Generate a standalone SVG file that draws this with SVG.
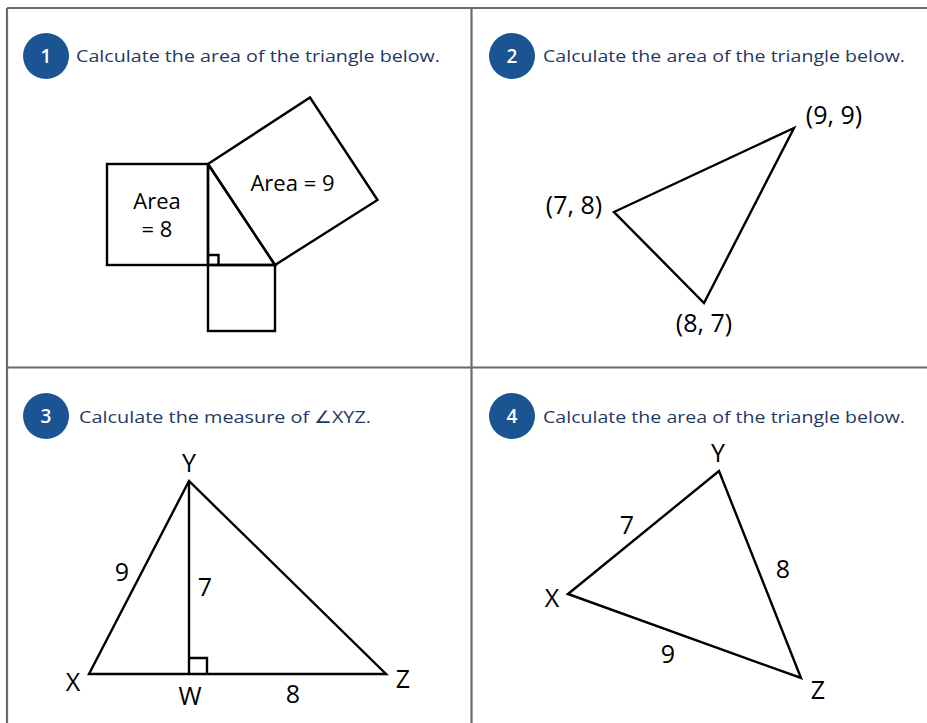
<svg xmlns="http://www.w3.org/2000/svg" width="927" height="723" viewBox="0 0 927 723">
<style>
.grid{stroke:#6b6b6b;stroke-width:2.2;fill:none}
.shape{stroke:#000;stroke-width:2.4;fill:none;stroke-linejoin:miter}
.badge{fill:#1b5493}
.num{fill:#fff;font-family:"Open Sans","Liberation Sans",sans-serif;font-size:19px;font-weight:600;text-anchor:middle}
.q{fill:#1f3a5f;font-family:"Open Sans","Liberation Sans",sans-serif;font-size:17px}
.lbl{fill:#000;font-family:"Open Sans","Liberation Sans",sans-serif;font-size:25px;text-anchor:middle}
.lbl1{fill:#000;font-family:"Open Sans","Liberation Sans",sans-serif;font-size:22px;text-anchor:middle}
</style>
<rect width="927" height="723" fill="#fff"/>
<g id="grid">
<line class="grid" x1="7" y1="8" x2="927" y2="8"/>
<line class="grid" x1="7" y1="8" x2="7" y2="723"/>
<line class="grid" x1="471.5" y1="8" x2="471.5" y2="723"/>
<line class="grid" x1="7" y1="367.5" x2="927" y2="367.5"/>
</g>

<g id="q1">
<circle class="badge" cx="46" cy="56" r="23"/>
<text class="num" x="46" y="62.5">1</text>
<text class="q" x="76" y="62" textLength="364" lengthAdjust="spacingAndGlyphs">Calculate the area of the triangle below.</text>
<rect class="shape" x="107" y="164" width="101" height="101"/>
<rect class="shape" x="208" y="265" width="67" height="66"/>
<polygon class="shape" points="208,164 310,97.5 377.5,200 275,265"/>
<polyline class="shape" points="208,164 208,265 275,265 208,164"/>
<polyline class="shape" points="208,255 218.5,255 218.5,265" stroke-width="2"/>
<text class="lbl1" x="157" y="209">Area</text>
<text class="lbl1" x="157" y="237">= 8</text>
<text class="lbl1" x="292.5" y="191">Area = 9</text>
</g>

<g id="q2">
<circle class="badge" cx="512" cy="56" r="23"/>
<text class="num" x="512" y="62.5">2</text>
<text class="q" x="543" y="62" textLength="362" lengthAdjust="spacingAndGlyphs">Calculate the area of the triangle below.</text>
<polygon class="shape" points="614,212 794,128 704,303"/>
<text class="lbl" x="834" y="124">(9, 9)</text>
<text class="lbl" x="574" y="214">(7, 8)</text>
<text class="lbl" x="704" y="332">(8, 7)</text>
</g>

<g id="q3">
<circle class="badge" cx="46" cy="416" r="23"/>
<text class="num" x="46" y="422.5">3</text>
<text class="q" x="79" y="423" textLength="292" lengthAdjust="spacingAndGlyphs">Calculate the measure of ∠XYZ.</text>
<polygon class="shape" points="89,674 189,481 386,674"/>
<line class="shape" x1="189" y1="481" x2="189" y2="674"/>
<polyline class="shape" points="189,658 207,658 207,674" stroke-width="2.2"/>
<text class="lbl" x="189" y="472">Y</text>
<text class="lbl" x="73" y="691">X</text>
<text class="lbl" x="190" y="705">W</text>
<text class="lbl" x="403" y="688">Z</text>
<text class="lbl" x="122" y="581">9</text>
<text class="lbl" x="205" y="596">7</text>
<text class="lbl" x="293" y="703">8</text>
</g>

<g id="q4">
<circle class="badge" cx="512" cy="416" r="23"/>
<text class="num" x="512" y="422.5">4</text>
<text class="q" x="543" y="423" textLength="362" lengthAdjust="spacingAndGlyphs">Calculate the area of the triangle below.</text>
<polygon class="shape" points="568,594 719,471 801,678"/>
<text class="lbl" x="718" y="462">Y</text>
<text class="lbl" x="552" y="607">X</text>
<text class="lbl" x="818" y="699">Z</text>
<text class="lbl" x="627" y="534">7</text>
<text class="lbl" x="783" y="578">8</text>
<text class="lbl" x="668" y="663">9</text>
</g>
</svg>
